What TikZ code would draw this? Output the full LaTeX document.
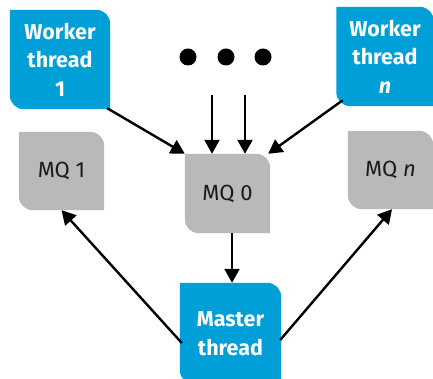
\documentclass[tikz,border=0pt]{standalone}
\usepackage{fontspec}
\setmainfont{Fira Sans}
\usetikzlibrary{arrows.meta,backgrounds}
\definecolor{hpblue}{HTML}{009FD8}
\definecolor{mqgray}{HTML}{B9B9BB}
\definecolor{mqtext}{HTML}{1A1A1A}
\newcommand\tabfill[2]{\fill[#2] (#1.north west) -- ([xshift=-14pt]#1.north east) arc[start angle=90,end angle=0,radius=14pt] -- (#1.south east) -- ([xshift=14pt]#1.south west) arc[start angle=270,end angle=180,radius=14pt] -- cycle;}
\tikzset{
  worker/.style={inner sep=0pt, text=white, align=center,
    font=\bfseries\fontsize{21.5}{28.5}\selectfont},
  mq/.style={inner sep=0pt, text=mqtext, font=\fontsize{22}{26}\selectfont},
  dotnode/.style={circle, fill=black, inner sep=0pt, minimum size=17pt},
  conn/.style={line width=2.4pt, -{Triangle[length=14pt,width=15pt]}}
}
\begin{document}
\begin{tikzpicture}[x=1pt,y=1pt]
\useasboundingbox (0,0) rectangle (433,379);
\clip (0,0) rectangle (433,379);
% nodes
\node[worker, minimum width=100pt, minimum height=99pt] (w1) at (60,319.5) {Worker\\thread\\1};
\node[worker, minimum width=97pt, minimum height=99pt] (wn) at (385,322.5) {Worker\\thread\\\textit{n}};
\node[mq, minimum width=85pt, minimum height=78pt] (mq1) at (61.5,208) {MQ 1};
\node[mq, minimum width=85pt, minimum height=79pt] (mq0) at (227.5,185.5) {MQ 0};
\node[mq, minimum width=85pt, minimum height=78pt] (mqn) at (390.5,209) {MQ \textit{n}};
\node[worker, minimum width=101pt, minimum height=101pt] (master) at (230.5,45.5) {Master\\thread};
\node[dotnode] (d1) at (188,322) {};
\node[dotnode] (d2) at (226,322) {};
\node[dotnode] (d3) at (263,322) {};
\coordinate (a1) at (212,284);
\coordinate (a2) at (245,284);
% shapes
\begin{scope}[on background layer]
\tabfill{w1}{hpblue}
\tabfill{wn}{hpblue}
\tabfill{mq1}{mqgray}
\tabfill{mq0}{mqgray}
\tabfill{mqn}{mqgray}
\tabfill{master}{hpblue}
\end{scope}
% connectors
\draw[conn] ([shift={(-3,1)}]w1.south east) -- (mq0.north west);
\draw[conn] ([shift={(6.5,6)}]wn.south west) -- ([xshift=-2]mq0.north east);
\draw[conn] (a1) -- (a1 |- mq0.north);
\draw[conn] (a2) -- (a2 |- mq0.north);
\draw[conn] ([xshift=4.5]mq0.south) -- ([xshift=1.5]master.north);
\draw[conn] ([shift={(2,-9.5)}]master.west) -- (mq1.south);
\draw[conn] ([shift={(-1,-6.5)}]master.east) -- ([xshift=1.5]mqn.south);
\end{tikzpicture}
\end{document}
